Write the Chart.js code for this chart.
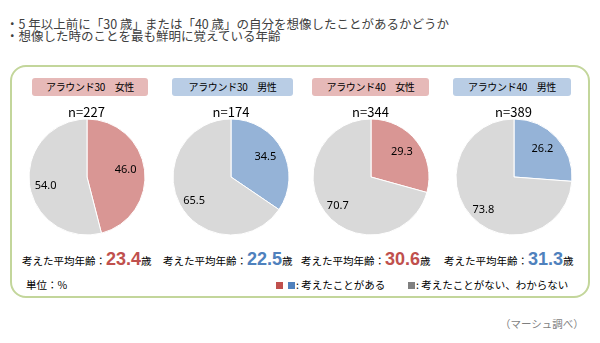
<!DOCTYPE html>
<html lang="ja">
<head>
<meta charset="utf-8">
<script src="https://cdn.jsdelivr.net/npm/chart.js@4/dist/chart.umd.min.js"></script>
<style>
  body { margin: 0; background: #fff; font-family: "Noto Sans CJK JP", "Noto Sans", sans-serif; color: #262626; }
  #page { position: relative; width: 600px; height: 343px; overflow: hidden; }
  .title { position: absolute; left: 6px; font-size: 12.5px; color: #404040; white-space: nowrap; line-height: 12px; }
  #frame { position: absolute; left: 10px; top: 65px; width: 576px; height: 229px; border: 2px solid #c3d69b; border-radius: 16px; }
  .pill { position: absolute; top: 78px; height: 18px; border-radius: 3px; font-size: 10px; line-height: 18px; text-align: center; color: #000; letter-spacing: -0.3px; }
  .nlabel { position: absolute; top: 104px; width: 80px; font-size: 13px; line-height: 16px; text-align: center; color: #000; }
  .pie { position: absolute; top: 112px; width: 130px; height: 130px; }
  .avg { position: absolute; top: 248px; white-space: nowrap; font-size: 10.5px; line-height: 22px; color: #000; }
  .avg b { font-family: "Liberation Sans", Arial, sans-serif; font-size: 18px; font-weight: bold; }
  .note { position: absolute; top: 277px; font-size: 10.5px; line-height: 16px; color: #000; white-space: nowrap; }
  .sq { display: inline-block; width: 7px; height: 7px; margin-right: 5px; vertical-align: 0px; }
  #source { position: absolute; left: 500px; top: 316px; font-size: 10.5px; line-height: 16px; color: #7f7f7f; white-space: nowrap; }
</style>
</head>
<body>
<div id="page">
  <div class="title" style="top:18px">・5 年以上前に「30 歳」または「40 歳」の自分を想像したことがあるかどうか</div>
  <div class="title" style="top:30px">・想像した時のことを最も鮮明に覚えている年齢</div>
  <div id="frame"></div>
  <div id="charts"></div>
  <div class="note" style="left:26px">単位：%</div>
  <div class="note" style="left:276px"><span class="sq" style="background:#c0504d;margin-right:5px"></span><span class="sq" style="background:#4f81bd;margin-right:1px"></span>: 考えたことがある</div>
  <div class="note" style="left:408px"><span class="sq" style="background:#808080;margin-right:1px"></span>: 考えたことがない、わからない</div>
  <div id="source">（マーシュ調べ）</div>
</div>
<script>
// データ
const groups = ['アラウンド30　女性', 'アラウンド30　男性', 'アラウンド40　女性', 'アラウンド40　男性']
const sampleSizes = [227, 174, 344, 389]
const answers = ['考えたことがある', '考えたことがない、わからない']
const thought = [46.0, 34.5, 29.3, 26.2]
const notThought = [54.0, 65.5, 70.7, 73.8]
const avgAges = [23.4, 22.5, 30.6, 31.3]

// 見た目
const pieCenters = [86.5, 231, 370.5, 513.5]
const pillBoxes = [[32, 116], [172, 121], [312, 117], [453, 118]]
const avgLefts = [22, 163, 301, 444]
const pillColors = ['#e6b9b8', '#b9cde5', '#e6b9b8', '#b9cde5']
const sliceColors = ['#d99694', '#95b3d7', '#d99694', '#95b3d7']
const avgColors = ['#c0504d', '#4f81bd', '#c0504d', '#4f81bd']

// 円グラフの数値ラベル
const sliceLabels = {
  id: 'sliceLabels',
  afterDatasetsDraw(chart) {
    const ctx = chart.ctx
    const meta = chart.getDatasetMeta(0)
    ctx.save()
    ctx.font = '11px "Noto Sans", "Liberation Sans", sans-serif'
    ctx.fillStyle = '#000'
    ctx.textAlign = 'center'
    ctx.textBaseline = 'middle'
    meta.data.forEach((arc, i) => {
      const p = arc.getProps(['x', 'y', 'startAngle', 'endAngle', 'outerRadius'], true)
      const mid = (p.startAngle + p.endAngle) / 2
      // 大きい方のスライスは少し外側・下寄り
      const r = p.outerRadius * (i === 0 ? 0.67 : 0.72)
      const value = chart.data.datasets[0].data[i]
      ctx.fillText(value.toFixed(1), p.x + Math.cos(mid) * r, p.y + Math.sin(mid) * r + (i === 0 ? -2 : 4))
    })
    ctx.restore()
  }
}

const container = document.getElementById('charts')
const page = document.getElementById('page')

groups.forEach((name, i) => {
  const pill = document.createElement('div')
  pill.className = 'pill'
  pill.style.left = pillBoxes[i][0] + 'px'
  pill.style.width = pillBoxes[i][1] + 'px'
  pill.style.background = pillColors[i]
  pill.textContent = name
  page.appendChild(pill)

  const n = document.createElement('div')
  n.className = 'nlabel'
  n.style.left = (pieCenters[i] - 40) + 'px'
  n.textContent = 'n=' + sampleSizes[i]
  page.appendChild(n)

  const box = document.createElement('div')
  box.className = 'pie'
  box.style.left = (pieCenters[i] - 65) + 'px'
  const canvas = document.createElement('canvas')
  box.appendChild(canvas)
  container.appendChild(box)

  new Chart(canvas, {
    type: 'pie',
    data: {
      labels: answers,
      datasets: [{
        data: [thought[i], notThought[i]],
        backgroundColor: [sliceColors[i], '#d9d9d9'],
        borderColor: '#ffffff',
        borderWidth: 1
      }]
    },
    options: {
      responsive: true,
      maintainAspectRatio: false,
      animation: false,
      radius: 58,
      layout: { padding: 0 },
      plugins: {
        legend: { display: false },
        tooltip: { enabled: false }
      }
    },
    plugins: [sliceLabels]
  })

  const avg = document.createElement('div')
  avg.className = 'avg'
  avg.style.left = avgLefts[i] + 'px'
  avg.innerHTML = '考えた平均年齢：<b style="color:' + avgColors[i] + '">' + avgAges[i].toFixed(1) + '</b>歳'
  page.appendChild(avg)
})
</script>
</body>
</html>
